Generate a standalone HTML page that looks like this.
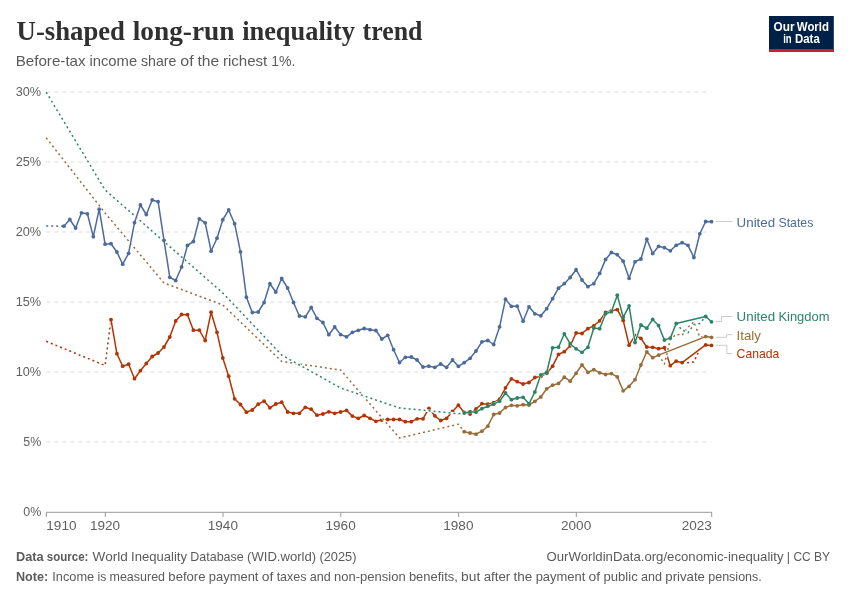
<!DOCTYPE html>
<html lang="en"><head><meta charset="utf-8"><title>U-shaped long-run inequality trend</title>
<style>html,body{margin:0;padding:0;background:#fff}body{width:850px;height:600px;overflow:hidden}</style></head>
<body>
<svg width="850" height="600" viewBox="0 0 850 600" style="display:block">
<rect width="850" height="600" fill="#ffffff"/>
<line x1="46.35" x2="711.5" y1="92" y2="92" stroke="#dddddd" stroke-width="1" stroke-dasharray="4 4"/>
<line x1="46.35" x2="711.5" y1="162" y2="162" stroke="#dddddd" stroke-width="1" stroke-dasharray="4 4"/>
<line x1="46.35" x2="711.5" y1="232" y2="232" stroke="#dddddd" stroke-width="1" stroke-dasharray="4 4"/>
<line x1="46.35" x2="711.5" y1="302" y2="302" stroke="#dddddd" stroke-width="1" stroke-dasharray="4 4"/>
<line x1="46.35" x2="711.5" y1="372" y2="372" stroke="#dddddd" stroke-width="1" stroke-dasharray="4 4"/>
<line x1="46.35" x2="711.5" y1="442" y2="442" stroke="#dddddd" stroke-width="1" stroke-dasharray="4 4"/>
<line x1="46" x2="712.0" y1="512.3" y2="512.3" stroke="#999999" stroke-width="1"/>
<line x1="46.4" x2="46.4" y1="512.3" y2="517" stroke="#999999" stroke-width="1"/>
<line x1="105.3" x2="105.3" y1="512.3" y2="517" stroke="#999999" stroke-width="1"/>
<line x1="223.0" x2="223.0" y1="512.3" y2="517" stroke="#999999" stroke-width="1"/>
<line x1="340.8" x2="340.8" y1="512.3" y2="517" stroke="#999999" stroke-width="1"/>
<line x1="458.6" x2="458.6" y1="512.3" y2="517" stroke="#999999" stroke-width="1"/>
<line x1="576.3" x2="576.3" y1="512.3" y2="517" stroke="#999999" stroke-width="1"/>
<line x1="711.7" x2="711.7" y1="512.3" y2="517" stroke="#999999" stroke-width="1"/>
<g fill="none" stroke-linejoin="round" stroke-linecap="butt">
<path d="M46.2,341.3 L105.1,365.5 L111.0,319.7" stroke="#ffffff" stroke-width="2.5"/>
<path d="M46.2,341.3 L105.1,365.5 L111.0,319.7" stroke="#B13507" stroke-width="1.5" stroke-dasharray="2 3"/>
<path d="M682.1,362.6 L688.0,362.7 L693.9,362.0 L699.8,349.0 L705.7,344.9" stroke="#ffffff" stroke-width="2.5"/>
<path d="M682.1,362.6 L688.0,362.7 L693.9,362.0 L699.8,349.0 L705.7,344.9" stroke="#B13507" stroke-width="1.5" stroke-dasharray="2 3"/>
<path d="M111.0,319.7 L116.9,353.7 L122.7,366.2 L128.6,364.2 L134.5,378.7 L140.4,370.7 L146.3,363.5 L152.2,356.5 L158.1,353.0 L164.0,347.0 L169.8,337.0 L175.7,321.0 L181.6,314.5 L187.5,314.7 L193.4,330.2 L199.3,330.2 L205.2,340.5 L211.1,312.2 L217.0,332.3 L222.8,358.0 L228.7,376.2 L234.6,398.8 L240.5,404.5 L246.4,412.2 L252.3,410.0 L258.2,404.2 L264.1,401.2 L269.9,407.8 L275.8,404.0 L281.7,402.2 L287.6,412.0 L293.5,413.3 L299.4,413.3 L305.3,407.3 L311.2,409.2 L317.0,415.2 L322.9,414.0 L328.8,411.8 L334.7,413.3 L340.6,412.0 L346.5,410.4 L352.4,416.1 L358.3,418.3 L364.2,415.5 L370.0,418.3 L375.9,421.3 L381.8,420.0 L387.7,419.5 L393.6,419.5 L399.5,419.5 L405.4,421.7 L411.3,421.7 L417.1,418.8 L423.0,418.8 L428.9,408.3 L434.8,415.8 L440.7,420.5 L446.6,418.3 L452.5,411.4 L458.4,405.2 L464.2,412.5 L470.1,414.0 L476.0,409.0 L481.9,403.7 L487.8,404.2 L493.7,402.7 L499.6,399.2 L505.5,387.8 L511.4,378.8 L517.2,381.7 L523.1,384.0 L529.0,382.5 L534.9,377.5 L540.8,376.5 L546.7,373.2 L552.6,366.2 L558.5,354.4 L564.3,351.7 L570.2,345.8 L576.1,333.0 L582.0,333.5 L587.9,328.7 L593.8,325.8 L599.7,320.8 L605.6,312.5 L611.4,310.8 L617.3,309.6 L623.2,320.4 L629.1,345.2 L635.0,335.7 L640.9,338.3 L646.8,347.0 L652.7,347.3 L658.6,348.7 L664.4,347.7 L670.3,365.7 L676.2,361.2 L682.1,362.6 L705.7,344.9 L711.5,345.4" stroke="#ffffff" stroke-width="2.5"/>
<path d="M111.0,319.7 L116.9,353.7 L122.7,366.2 L128.6,364.2 L134.5,378.7 L140.4,370.7 L146.3,363.5 L152.2,356.5 L158.1,353.0 L164.0,347.0 L169.8,337.0 L175.7,321.0 L181.6,314.5 L187.5,314.7 L193.4,330.2 L199.3,330.2 L205.2,340.5 L211.1,312.2 L217.0,332.3 L222.8,358.0 L228.7,376.2 L234.6,398.8 L240.5,404.5 L246.4,412.2 L252.3,410.0 L258.2,404.2 L264.1,401.2 L269.9,407.8 L275.8,404.0 L281.7,402.2 L287.6,412.0 L293.5,413.3 L299.4,413.3 L305.3,407.3 L311.2,409.2 L317.0,415.2 L322.9,414.0 L328.8,411.8 L334.7,413.3 L340.6,412.0 L346.5,410.4 L352.4,416.1 L358.3,418.3 L364.2,415.5 L370.0,418.3 L375.9,421.3 L381.8,420.0 L387.7,419.5 L393.6,419.5 L399.5,419.5 L405.4,421.7 L411.3,421.7 L417.1,418.8 L423.0,418.8 L428.9,408.3 L434.8,415.8 L440.7,420.5 L446.6,418.3 L452.5,411.4 L458.4,405.2 L464.2,412.5 L470.1,414.0 L476.0,409.0 L481.9,403.7 L487.8,404.2 L493.7,402.7 L499.6,399.2 L505.5,387.8 L511.4,378.8 L517.2,381.7 L523.1,384.0 L529.0,382.5 L534.9,377.5 L540.8,376.5 L546.7,373.2 L552.6,366.2 L558.5,354.4 L564.3,351.7 L570.2,345.8 L576.1,333.0 L582.0,333.5 L587.9,328.7 L593.8,325.8 L599.7,320.8 L605.6,312.5 L611.4,310.8 L617.3,309.6 L623.2,320.4 L629.1,345.2 L635.0,335.7 L640.9,338.3 L646.8,347.0 L652.7,347.3 L658.6,348.7 L664.4,347.7 L670.3,365.7 L676.2,361.2 L682.1,362.6 L705.7,344.9 L711.5,345.4" stroke="#B13507" stroke-width="1.5"/>
</g>
<g fill="#B13507">
<circle cx="111.0" cy="319.7" r="1.9"/>
<circle cx="116.9" cy="353.7" r="1.9"/>
<circle cx="122.7" cy="366.2" r="1.9"/>
<circle cx="128.6" cy="364.2" r="1.9"/>
<circle cx="134.5" cy="378.7" r="1.9"/>
<circle cx="140.4" cy="370.7" r="1.9"/>
<circle cx="146.3" cy="363.5" r="1.9"/>
<circle cx="152.2" cy="356.5" r="1.9"/>
<circle cx="158.1" cy="353.0" r="1.9"/>
<circle cx="164.0" cy="347.0" r="1.9"/>
<circle cx="169.8" cy="337.0" r="1.9"/>
<circle cx="175.7" cy="321.0" r="1.9"/>
<circle cx="181.6" cy="314.5" r="1.9"/>
<circle cx="187.5" cy="314.7" r="1.9"/>
<circle cx="193.4" cy="330.2" r="1.9"/>
<circle cx="199.3" cy="330.2" r="1.9"/>
<circle cx="205.2" cy="340.5" r="1.9"/>
<circle cx="211.1" cy="312.2" r="1.9"/>
<circle cx="217.0" cy="332.3" r="1.9"/>
<circle cx="222.8" cy="358.0" r="1.9"/>
<circle cx="228.7" cy="376.2" r="1.9"/>
<circle cx="234.6" cy="398.8" r="1.9"/>
<circle cx="240.5" cy="404.5" r="1.9"/>
<circle cx="246.4" cy="412.2" r="1.9"/>
<circle cx="252.3" cy="410.0" r="1.9"/>
<circle cx="258.2" cy="404.2" r="1.9"/>
<circle cx="264.1" cy="401.2" r="1.9"/>
<circle cx="269.9" cy="407.8" r="1.9"/>
<circle cx="275.8" cy="404.0" r="1.9"/>
<circle cx="281.7" cy="402.2" r="1.9"/>
<circle cx="287.6" cy="412.0" r="1.9"/>
<circle cx="293.5" cy="413.3" r="1.9"/>
<circle cx="299.4" cy="413.3" r="1.9"/>
<circle cx="305.3" cy="407.3" r="1.9"/>
<circle cx="311.2" cy="409.2" r="1.9"/>
<circle cx="317.0" cy="415.2" r="1.9"/>
<circle cx="322.9" cy="414.0" r="1.9"/>
<circle cx="328.8" cy="411.8" r="1.9"/>
<circle cx="334.7" cy="413.3" r="1.9"/>
<circle cx="340.6" cy="412.0" r="1.9"/>
<circle cx="346.5" cy="410.4" r="1.9"/>
<circle cx="352.4" cy="416.1" r="1.9"/>
<circle cx="358.3" cy="418.3" r="1.9"/>
<circle cx="364.2" cy="415.5" r="1.9"/>
<circle cx="370.0" cy="418.3" r="1.9"/>
<circle cx="375.9" cy="421.3" r="1.9"/>
<circle cx="381.8" cy="420.0" r="1.9"/>
<circle cx="387.7" cy="419.5" r="1.9"/>
<circle cx="393.6" cy="419.5" r="1.9"/>
<circle cx="399.5" cy="419.5" r="1.9"/>
<circle cx="405.4" cy="421.7" r="1.9"/>
<circle cx="411.3" cy="421.7" r="1.9"/>
<circle cx="417.1" cy="418.8" r="1.9"/>
<circle cx="423.0" cy="418.8" r="1.9"/>
<circle cx="428.9" cy="408.3" r="1.9"/>
<circle cx="434.8" cy="415.8" r="1.9"/>
<circle cx="440.7" cy="420.5" r="1.9"/>
<circle cx="446.6" cy="418.3" r="1.9"/>
<circle cx="452.5" cy="411.4" r="1.9"/>
<circle cx="458.4" cy="405.2" r="1.9"/>
<circle cx="464.2" cy="412.5" r="1.9"/>
<circle cx="470.1" cy="414.0" r="1.9"/>
<circle cx="476.0" cy="409.0" r="1.9"/>
<circle cx="481.9" cy="403.7" r="1.9"/>
<circle cx="487.8" cy="404.2" r="1.9"/>
<circle cx="493.7" cy="402.7" r="1.9"/>
<circle cx="499.6" cy="399.2" r="1.9"/>
<circle cx="505.5" cy="387.8" r="1.9"/>
<circle cx="511.4" cy="378.8" r="1.9"/>
<circle cx="517.2" cy="381.7" r="1.9"/>
<circle cx="523.1" cy="384.0" r="1.9"/>
<circle cx="529.0" cy="382.5" r="1.9"/>
<circle cx="534.9" cy="377.5" r="1.9"/>
<circle cx="540.8" cy="376.5" r="1.9"/>
<circle cx="546.7" cy="373.2" r="1.9"/>
<circle cx="552.6" cy="366.2" r="1.9"/>
<circle cx="558.5" cy="354.4" r="1.9"/>
<circle cx="564.3" cy="351.7" r="1.9"/>
<circle cx="570.2" cy="345.8" r="1.9"/>
<circle cx="576.1" cy="333.0" r="1.9"/>
<circle cx="582.0" cy="333.5" r="1.9"/>
<circle cx="587.9" cy="328.7" r="1.9"/>
<circle cx="593.8" cy="325.8" r="1.9"/>
<circle cx="599.7" cy="320.8" r="1.9"/>
<circle cx="605.6" cy="312.5" r="1.9"/>
<circle cx="611.4" cy="310.8" r="1.9"/>
<circle cx="617.3" cy="309.6" r="1.9"/>
<circle cx="623.2" cy="320.4" r="1.9"/>
<circle cx="629.1" cy="345.2" r="1.9"/>
<circle cx="635.0" cy="335.7" r="1.9"/>
<circle cx="640.9" cy="338.3" r="1.9"/>
<circle cx="646.8" cy="347.0" r="1.9"/>
<circle cx="652.7" cy="347.3" r="1.9"/>
<circle cx="658.6" cy="348.7" r="1.9"/>
<circle cx="664.4" cy="347.7" r="1.9"/>
<circle cx="670.3" cy="365.7" r="1.9"/>
<circle cx="676.2" cy="361.2" r="1.9"/>
<circle cx="682.1" cy="362.6" r="1.9"/>
<circle cx="705.7" cy="344.9" r="1.9"/>
<circle cx="711.5" cy="345.4" r="1.9"/>
</g>
<g fill="none" stroke-linejoin="round" stroke-linecap="butt">
<path d="M46.2,137.8 L105.1,213.0 L164.0,283.0 L222.8,305.0 L281.7,361.5 L340.6,370.0 L399.5,438.0 L458.4,424.2 L464.2,431.7" stroke="#ffffff" stroke-width="2.5"/>
<path d="M46.2,137.8 L105.1,213.0 L164.0,283.0 L222.8,305.0 L281.7,361.5 L340.6,370.0 L399.5,438.0 L458.4,424.2 L464.2,431.7" stroke="#996D39" stroke-width="1.5" stroke-dasharray="2 3"/>
<path d="M658.6,355.1 L664.4,364.0 L670.3,339.5 L676.2,334.2 L682.1,335.3 L688.0,327.2 L693.9,322.0 L699.8,337.1 L705.7,336.6" stroke="#ffffff" stroke-width="2.5"/>
<path d="M658.6,355.1 L664.4,364.0 L670.3,339.5 L676.2,334.2 L682.1,335.3 L688.0,327.2 L693.9,322.0 L699.8,337.1 L705.7,336.6" stroke="#996D39" stroke-width="1.5" stroke-dasharray="2 3"/>
<path d="M464.2,431.7 L470.1,433.0 L476.0,434.2 L481.9,431.2 L487.8,426.2 L493.7,414.5 L499.6,413.0 L505.5,407.5 L511.4,405.3 L517.2,405.8 L523.1,404.7 L529.0,405.0 L534.9,401.3 L540.8,397.0 L546.7,388.8 L552.6,385.2 L558.5,383.4 L564.3,377.2 L570.2,381.2 L576.1,373.3 L582.0,364.8 L587.9,372.3 L593.8,369.7 L599.7,372.8 L605.6,374.5 L611.4,373.6 L617.3,376.9 L623.2,390.8 L629.1,386.3 L635.0,379.7 L640.9,365.0 L646.8,351.8 L652.7,357.7 L658.6,355.1 L705.7,336.6 L711.5,337.3" stroke="#ffffff" stroke-width="2.5"/>
<path d="M464.2,431.7 L470.1,433.0 L476.0,434.2 L481.9,431.2 L487.8,426.2 L493.7,414.5 L499.6,413.0 L505.5,407.5 L511.4,405.3 L517.2,405.8 L523.1,404.7 L529.0,405.0 L534.9,401.3 L540.8,397.0 L546.7,388.8 L552.6,385.2 L558.5,383.4 L564.3,377.2 L570.2,381.2 L576.1,373.3 L582.0,364.8 L587.9,372.3 L593.8,369.7 L599.7,372.8 L605.6,374.5 L611.4,373.6 L617.3,376.9 L623.2,390.8 L629.1,386.3 L635.0,379.7 L640.9,365.0 L646.8,351.8 L652.7,357.7 L658.6,355.1 L705.7,336.6 L711.5,337.3" stroke="#996D39" stroke-width="1.5"/>
</g>
<g fill="#996D39">
<circle cx="464.2" cy="431.7" r="1.9"/>
<circle cx="470.1" cy="433.0" r="1.9"/>
<circle cx="476.0" cy="434.2" r="1.9"/>
<circle cx="481.9" cy="431.2" r="1.9"/>
<circle cx="487.8" cy="426.2" r="1.9"/>
<circle cx="493.7" cy="414.5" r="1.9"/>
<circle cx="499.6" cy="413.0" r="1.9"/>
<circle cx="505.5" cy="407.5" r="1.9"/>
<circle cx="511.4" cy="405.3" r="1.9"/>
<circle cx="517.2" cy="405.8" r="1.9"/>
<circle cx="523.1" cy="404.7" r="1.9"/>
<circle cx="529.0" cy="405.0" r="1.9"/>
<circle cx="534.9" cy="401.3" r="1.9"/>
<circle cx="540.8" cy="397.0" r="1.9"/>
<circle cx="546.7" cy="388.8" r="1.9"/>
<circle cx="552.6" cy="385.2" r="1.9"/>
<circle cx="558.5" cy="383.4" r="1.9"/>
<circle cx="564.3" cy="377.2" r="1.9"/>
<circle cx="570.2" cy="381.2" r="1.9"/>
<circle cx="576.1" cy="373.3" r="1.9"/>
<circle cx="582.0" cy="364.8" r="1.9"/>
<circle cx="587.9" cy="372.3" r="1.9"/>
<circle cx="593.8" cy="369.7" r="1.9"/>
<circle cx="599.7" cy="372.8" r="1.9"/>
<circle cx="605.6" cy="374.5" r="1.9"/>
<circle cx="611.4" cy="373.6" r="1.9"/>
<circle cx="617.3" cy="376.9" r="1.9"/>
<circle cx="623.2" cy="390.8" r="1.9"/>
<circle cx="629.1" cy="386.3" r="1.9"/>
<circle cx="635.0" cy="379.7" r="1.9"/>
<circle cx="640.9" cy="365.0" r="1.9"/>
<circle cx="646.8" cy="351.8" r="1.9"/>
<circle cx="652.7" cy="357.7" r="1.9"/>
<circle cx="658.6" cy="355.1" r="1.9"/>
<circle cx="705.7" cy="336.6" r="1.9"/>
<circle cx="711.5" cy="337.3" r="1.9"/>
</g>
<g fill="none" stroke-linejoin="round" stroke-linecap="butt">
<path d="M46.2,92.2 L105.1,190.0 L164.0,241.5 L222.8,293.0 L281.7,355.0 L340.6,388.0 L399.5,408.0 L458.4,413.7 L464.2,413.0" stroke="#ffffff" stroke-width="2.5"/>
<path d="M46.2,92.2 L105.1,190.0 L164.0,241.5 L222.8,293.0 L281.7,355.0 L340.6,388.0 L399.5,408.0 L458.4,413.7 L464.2,413.0" stroke="#2C8465" stroke-width="1.5" stroke-dasharray="2 3"/>
<path d="M676.2,323.5 L682.1,330.0 L688.0,332.8 L693.9,324.5 L699.8,323.4 L705.7,316.5" stroke="#ffffff" stroke-width="2.5"/>
<path d="M676.2,323.5 L682.1,330.0 L688.0,332.8 L693.9,324.5 L699.8,323.4 L705.7,316.5" stroke="#2C8465" stroke-width="1.5" stroke-dasharray="2 3"/>
<path d="M464.2,413.0 L470.1,411.7 L476.0,412.2 L481.9,408.7 L487.8,406.2 L493.7,404.2 L499.6,401.2 L505.5,393.0 L511.4,399.7 L517.2,398.0 L523.1,397.3 L529.0,403.8 L534.9,392.0 L540.8,374.8 L546.7,372.5 L552.6,347.8 L558.5,347.2 L564.3,333.8 L570.2,343.7 L576.1,348.8 L582.0,352.3 L587.9,347.3 L593.8,328.0 L599.7,328.7 L605.6,313.7 L611.4,311.7 L617.3,295.2 L623.2,317.3 L629.1,305.8 L635.0,342.5 L640.9,325.0 L646.8,328.2 L652.7,319.4 L658.6,325.6 L664.4,340.0 L670.3,338.1 L676.2,323.5 L705.7,316.5 L711.5,321.8" stroke="#ffffff" stroke-width="2.5"/>
<path d="M464.2,413.0 L470.1,411.7 L476.0,412.2 L481.9,408.7 L487.8,406.2 L493.7,404.2 L499.6,401.2 L505.5,393.0 L511.4,399.7 L517.2,398.0 L523.1,397.3 L529.0,403.8 L534.9,392.0 L540.8,374.8 L546.7,372.5 L552.6,347.8 L558.5,347.2 L564.3,333.8 L570.2,343.7 L576.1,348.8 L582.0,352.3 L587.9,347.3 L593.8,328.0 L599.7,328.7 L605.6,313.7 L611.4,311.7 L617.3,295.2 L623.2,317.3 L629.1,305.8 L635.0,342.5 L640.9,325.0 L646.8,328.2 L652.7,319.4 L658.6,325.6 L664.4,340.0 L670.3,338.1 L676.2,323.5 L705.7,316.5 L711.5,321.8" stroke="#2C8465" stroke-width="1.5"/>
</g>
<g fill="#2C8465">
<circle cx="464.2" cy="413.0" r="1.9"/>
<circle cx="470.1" cy="411.7" r="1.9"/>
<circle cx="476.0" cy="412.2" r="1.9"/>
<circle cx="481.9" cy="408.7" r="1.9"/>
<circle cx="487.8" cy="406.2" r="1.9"/>
<circle cx="493.7" cy="404.2" r="1.9"/>
<circle cx="499.6" cy="401.2" r="1.9"/>
<circle cx="505.5" cy="393.0" r="1.9"/>
<circle cx="511.4" cy="399.7" r="1.9"/>
<circle cx="517.2" cy="398.0" r="1.9"/>
<circle cx="523.1" cy="397.3" r="1.9"/>
<circle cx="529.0" cy="403.8" r="1.9"/>
<circle cx="534.9" cy="392.0" r="1.9"/>
<circle cx="540.8" cy="374.8" r="1.9"/>
<circle cx="546.7" cy="372.5" r="1.9"/>
<circle cx="552.6" cy="347.8" r="1.9"/>
<circle cx="558.5" cy="347.2" r="1.9"/>
<circle cx="564.3" cy="333.8" r="1.9"/>
<circle cx="570.2" cy="343.7" r="1.9"/>
<circle cx="576.1" cy="348.8" r="1.9"/>
<circle cx="582.0" cy="352.3" r="1.9"/>
<circle cx="587.9" cy="347.3" r="1.9"/>
<circle cx="593.8" cy="328.0" r="1.9"/>
<circle cx="599.7" cy="328.7" r="1.9"/>
<circle cx="605.6" cy="313.7" r="1.9"/>
<circle cx="611.4" cy="311.7" r="1.9"/>
<circle cx="617.3" cy="295.2" r="1.9"/>
<circle cx="623.2" cy="317.3" r="1.9"/>
<circle cx="629.1" cy="305.8" r="1.9"/>
<circle cx="635.0" cy="342.5" r="1.9"/>
<circle cx="640.9" cy="325.0" r="1.9"/>
<circle cx="646.8" cy="328.2" r="1.9"/>
<circle cx="652.7" cy="319.4" r="1.9"/>
<circle cx="658.6" cy="325.6" r="1.9"/>
<circle cx="664.4" cy="340.0" r="1.9"/>
<circle cx="670.3" cy="338.1" r="1.9"/>
<circle cx="676.2" cy="323.5" r="1.9"/>
<circle cx="705.7" cy="316.5" r="1.9"/>
<circle cx="711.5" cy="321.8" r="1.9"/>
</g>
<g fill="none" stroke-linejoin="round" stroke-linecap="butt">
<path d="M46.2,226.0 L63.9,226.2" stroke="#ffffff" stroke-width="2.5"/>
<path d="M46.2,226.0 L63.9,226.2" stroke="#4C6A9C" stroke-width="1.5" stroke-dasharray="2 3"/>
<path d="M63.9,226.2 L69.8,219.5 L75.6,228.0 L81.5,212.8 L87.4,213.8 L93.3,236.7 L99.2,209.2 L105.1,244.2 L111.0,243.7 L116.9,252.0 L122.7,264.2 L128.6,253.3 L134.5,222.7 L140.4,205.0 L146.3,214.5 L152.2,200.0 L158.1,201.7 L164.0,240.3 L169.8,277.3 L175.7,280.5 L181.6,267.0 L187.5,245.3 L193.4,241.5 L199.3,218.8 L205.2,222.8 L211.1,251.2 L217.0,238.2 L222.8,219.7 L228.7,210.0 L234.6,223.7 L240.5,251.8 L246.4,297.2 L252.3,312.5 L258.2,312.0 L264.1,302.5 L269.9,283.7 L275.8,292.0 L281.7,278.5 L287.6,288.0 L293.5,302.5 L299.4,316.0 L305.3,316.8 L311.2,307.5 L317.0,318.3 L322.9,322.5 L328.8,334.7 L334.7,327.0 L340.6,334.6 L346.5,336.8 L352.4,332.3 L358.3,330.3 L364.2,328.5 L370.0,329.7 L375.9,330.5 L381.8,339.0 L387.7,335.3 L393.6,349.7 L399.5,362.5 L405.4,357.3 L411.3,357.0 L417.1,360.0 L423.0,367.0 L428.9,366.2 L434.8,367.3 L440.7,364.0 L446.6,367.3 L452.5,360.0 L458.4,366.3 L464.2,362.7 L470.1,358.3 L476.0,351.0 L481.9,341.8 L487.8,340.5 L493.7,344.5 L499.6,326.8 L505.5,299.2 L511.4,306.3 L517.2,306.2 L523.1,321.2 L529.0,306.8 L534.9,313.8 L540.8,315.8 L546.7,308.7 L552.6,298.7 L558.5,288.2 L564.3,283.7 L570.2,277.5 L576.1,269.7 L582.0,280.0 L587.9,286.7 L593.8,283.7 L599.7,273.4 L605.6,259.4 L611.4,252.5 L617.3,254.7 L623.2,261.2 L629.1,278.3 L635.0,261.8 L640.9,259.0 L646.8,239.2 L652.7,253.5 L658.6,246.3 L664.4,247.7 L670.3,250.8 L676.2,245.3 L682.1,242.7 L688.0,245.3 L693.9,257.5 L699.8,233.8 L705.7,221.5 L711.5,221.7" stroke="#ffffff" stroke-width="2.5"/>
<path d="M63.9,226.2 L69.8,219.5 L75.6,228.0 L81.5,212.8 L87.4,213.8 L93.3,236.7 L99.2,209.2 L105.1,244.2 L111.0,243.7 L116.9,252.0 L122.7,264.2 L128.6,253.3 L134.5,222.7 L140.4,205.0 L146.3,214.5 L152.2,200.0 L158.1,201.7 L164.0,240.3 L169.8,277.3 L175.7,280.5 L181.6,267.0 L187.5,245.3 L193.4,241.5 L199.3,218.8 L205.2,222.8 L211.1,251.2 L217.0,238.2 L222.8,219.7 L228.7,210.0 L234.6,223.7 L240.5,251.8 L246.4,297.2 L252.3,312.5 L258.2,312.0 L264.1,302.5 L269.9,283.7 L275.8,292.0 L281.7,278.5 L287.6,288.0 L293.5,302.5 L299.4,316.0 L305.3,316.8 L311.2,307.5 L317.0,318.3 L322.9,322.5 L328.8,334.7 L334.7,327.0 L340.6,334.6 L346.5,336.8 L352.4,332.3 L358.3,330.3 L364.2,328.5 L370.0,329.7 L375.9,330.5 L381.8,339.0 L387.7,335.3 L393.6,349.7 L399.5,362.5 L405.4,357.3 L411.3,357.0 L417.1,360.0 L423.0,367.0 L428.9,366.2 L434.8,367.3 L440.7,364.0 L446.6,367.3 L452.5,360.0 L458.4,366.3 L464.2,362.7 L470.1,358.3 L476.0,351.0 L481.9,341.8 L487.8,340.5 L493.7,344.5 L499.6,326.8 L505.5,299.2 L511.4,306.3 L517.2,306.2 L523.1,321.2 L529.0,306.8 L534.9,313.8 L540.8,315.8 L546.7,308.7 L552.6,298.7 L558.5,288.2 L564.3,283.7 L570.2,277.5 L576.1,269.7 L582.0,280.0 L587.9,286.7 L593.8,283.7 L599.7,273.4 L605.6,259.4 L611.4,252.5 L617.3,254.7 L623.2,261.2 L629.1,278.3 L635.0,261.8 L640.9,259.0 L646.8,239.2 L652.7,253.5 L658.6,246.3 L664.4,247.7 L670.3,250.8 L676.2,245.3 L682.1,242.7 L688.0,245.3 L693.9,257.5 L699.8,233.8 L705.7,221.5 L711.5,221.7" stroke="#4C6A9C" stroke-width="1.5"/>
</g>
<g fill="#4C6A9C">
<circle cx="63.9" cy="226.2" r="1.9"/>
<circle cx="69.8" cy="219.5" r="1.9"/>
<circle cx="75.6" cy="228.0" r="1.9"/>
<circle cx="81.5" cy="212.8" r="1.9"/>
<circle cx="87.4" cy="213.8" r="1.9"/>
<circle cx="93.3" cy="236.7" r="1.9"/>
<circle cx="99.2" cy="209.2" r="1.9"/>
<circle cx="105.1" cy="244.2" r="1.9"/>
<circle cx="111.0" cy="243.7" r="1.9"/>
<circle cx="116.9" cy="252.0" r="1.9"/>
<circle cx="122.7" cy="264.2" r="1.9"/>
<circle cx="128.6" cy="253.3" r="1.9"/>
<circle cx="134.5" cy="222.7" r="1.9"/>
<circle cx="140.4" cy="205.0" r="1.9"/>
<circle cx="146.3" cy="214.5" r="1.9"/>
<circle cx="152.2" cy="200.0" r="1.9"/>
<circle cx="158.1" cy="201.7" r="1.9"/>
<circle cx="164.0" cy="240.3" r="1.9"/>
<circle cx="169.8" cy="277.3" r="1.9"/>
<circle cx="175.7" cy="280.5" r="1.9"/>
<circle cx="181.6" cy="267.0" r="1.9"/>
<circle cx="187.5" cy="245.3" r="1.9"/>
<circle cx="193.4" cy="241.5" r="1.9"/>
<circle cx="199.3" cy="218.8" r="1.9"/>
<circle cx="205.2" cy="222.8" r="1.9"/>
<circle cx="211.1" cy="251.2" r="1.9"/>
<circle cx="217.0" cy="238.2" r="1.9"/>
<circle cx="222.8" cy="219.7" r="1.9"/>
<circle cx="228.7" cy="210.0" r="1.9"/>
<circle cx="234.6" cy="223.7" r="1.9"/>
<circle cx="240.5" cy="251.8" r="1.9"/>
<circle cx="246.4" cy="297.2" r="1.9"/>
<circle cx="252.3" cy="312.5" r="1.9"/>
<circle cx="258.2" cy="312.0" r="1.9"/>
<circle cx="264.1" cy="302.5" r="1.9"/>
<circle cx="269.9" cy="283.7" r="1.9"/>
<circle cx="275.8" cy="292.0" r="1.9"/>
<circle cx="281.7" cy="278.5" r="1.9"/>
<circle cx="287.6" cy="288.0" r="1.9"/>
<circle cx="293.5" cy="302.5" r="1.9"/>
<circle cx="299.4" cy="316.0" r="1.9"/>
<circle cx="305.3" cy="316.8" r="1.9"/>
<circle cx="311.2" cy="307.5" r="1.9"/>
<circle cx="317.0" cy="318.3" r="1.9"/>
<circle cx="322.9" cy="322.5" r="1.9"/>
<circle cx="328.8" cy="334.7" r="1.9"/>
<circle cx="334.7" cy="327.0" r="1.9"/>
<circle cx="340.6" cy="334.6" r="1.9"/>
<circle cx="346.5" cy="336.8" r="1.9"/>
<circle cx="352.4" cy="332.3" r="1.9"/>
<circle cx="358.3" cy="330.3" r="1.9"/>
<circle cx="364.2" cy="328.5" r="1.9"/>
<circle cx="370.0" cy="329.7" r="1.9"/>
<circle cx="375.9" cy="330.5" r="1.9"/>
<circle cx="381.8" cy="339.0" r="1.9"/>
<circle cx="387.7" cy="335.3" r="1.9"/>
<circle cx="393.6" cy="349.7" r="1.9"/>
<circle cx="399.5" cy="362.5" r="1.9"/>
<circle cx="405.4" cy="357.3" r="1.9"/>
<circle cx="411.3" cy="357.0" r="1.9"/>
<circle cx="417.1" cy="360.0" r="1.9"/>
<circle cx="423.0" cy="367.0" r="1.9"/>
<circle cx="428.9" cy="366.2" r="1.9"/>
<circle cx="434.8" cy="367.3" r="1.9"/>
<circle cx="440.7" cy="364.0" r="1.9"/>
<circle cx="446.6" cy="367.3" r="1.9"/>
<circle cx="452.5" cy="360.0" r="1.9"/>
<circle cx="458.4" cy="366.3" r="1.9"/>
<circle cx="464.2" cy="362.7" r="1.9"/>
<circle cx="470.1" cy="358.3" r="1.9"/>
<circle cx="476.0" cy="351.0" r="1.9"/>
<circle cx="481.9" cy="341.8" r="1.9"/>
<circle cx="487.8" cy="340.5" r="1.9"/>
<circle cx="493.7" cy="344.5" r="1.9"/>
<circle cx="499.6" cy="326.8" r="1.9"/>
<circle cx="505.5" cy="299.2" r="1.9"/>
<circle cx="511.4" cy="306.3" r="1.9"/>
<circle cx="517.2" cy="306.2" r="1.9"/>
<circle cx="523.1" cy="321.2" r="1.9"/>
<circle cx="529.0" cy="306.8" r="1.9"/>
<circle cx="534.9" cy="313.8" r="1.9"/>
<circle cx="540.8" cy="315.8" r="1.9"/>
<circle cx="546.7" cy="308.7" r="1.9"/>
<circle cx="552.6" cy="298.7" r="1.9"/>
<circle cx="558.5" cy="288.2" r="1.9"/>
<circle cx="564.3" cy="283.7" r="1.9"/>
<circle cx="570.2" cy="277.5" r="1.9"/>
<circle cx="576.1" cy="269.7" r="1.9"/>
<circle cx="582.0" cy="280.0" r="1.9"/>
<circle cx="587.9" cy="286.7" r="1.9"/>
<circle cx="593.8" cy="283.7" r="1.9"/>
<circle cx="599.7" cy="273.4" r="1.9"/>
<circle cx="605.6" cy="259.4" r="1.9"/>
<circle cx="611.4" cy="252.5" r="1.9"/>
<circle cx="617.3" cy="254.7" r="1.9"/>
<circle cx="623.2" cy="261.2" r="1.9"/>
<circle cx="629.1" cy="278.3" r="1.9"/>
<circle cx="635.0" cy="261.8" r="1.9"/>
<circle cx="640.9" cy="259.0" r="1.9"/>
<circle cx="646.8" cy="239.2" r="1.9"/>
<circle cx="652.7" cy="253.5" r="1.9"/>
<circle cx="658.6" cy="246.3" r="1.9"/>
<circle cx="664.4" cy="247.7" r="1.9"/>
<circle cx="670.3" cy="250.8" r="1.9"/>
<circle cx="676.2" cy="245.3" r="1.9"/>
<circle cx="682.1" cy="242.7" r="1.9"/>
<circle cx="688.0" cy="245.3" r="1.9"/>
<circle cx="693.9" cy="257.5" r="1.9"/>
<circle cx="699.8" cy="233.8" r="1.9"/>
<circle cx="705.7" cy="221.5" r="1.9"/>
<circle cx="711.5" cy="221.7" r="1.9"/>
</g>
<g fill="none" stroke="#cccccc" stroke-width="1">
<path d="M715.8,221.5 H732.5"/>
<path d="M715.8,321.5 H721.5 V316.5 H732.5"/>
<path d="M715.8,337.3 H726.5 V334.7 H732.5"/>
<path d="M715.8,345.3 H726.8 V353.5 H732.5"/>
</g>
<rect x="769" y="16" width="64.8" height="35.9" fill="#002147"/>
<rect x="769" y="49.1" width="64.8" height="2.8" fill="#ce261e"/>
<text y="39.5" font-family='"Liberation Serif", serif' font-size="26.5" font-weight="700" fill="#303030"><tspan x="16.60" textLength="108.40" lengthAdjust="spacingAndGlyphs">U-shaped</tspan> <tspan x="132.70" textLength="101.80" lengthAdjust="spacingAndGlyphs">long-run</tspan> <tspan x="242.20" textLength="112.80" lengthAdjust="spacingAndGlyphs">inequality</tspan> <tspan x="362.60" textLength="59.80" lengthAdjust="spacingAndGlyphs">trend</tspan></text>
<text y="66.2" font-family='"Liberation Sans", sans-serif' font-size="15" font-weight="400" fill="#5b5b5b"><tspan x="15.70" textLength="69.91" lengthAdjust="spacingAndGlyphs">Before-tax</tspan> <tspan x="89.42" textLength="47.78" lengthAdjust="spacingAndGlyphs">income</tspan> <tspan x="141.03" textLength="35.41" lengthAdjust="spacingAndGlyphs">share</tspan> <tspan x="180.26" textLength="13.33" lengthAdjust="spacingAndGlyphs">of</tspan> <tspan x="197.42" textLength="21.69" lengthAdjust="spacingAndGlyphs">the</tspan> <tspan x="222.92" textLength="44.41" lengthAdjust="spacingAndGlyphs">richest</tspan> <tspan x="271.15" textLength="24.27" lengthAdjust="spacingAndGlyphs">1%.</tspan></text>
<text y="96.3" font-family='"Liberation Sans", sans-serif' font-size="13" font-weight="400" fill="#606060"><tspan x="15.70" textLength="25.50" lengthAdjust="spacingAndGlyphs">30%</tspan></text>
<text y="166.3" font-family='"Liberation Sans", sans-serif' font-size="13" font-weight="400" fill="#606060"><tspan x="15.70" textLength="25.50" lengthAdjust="spacingAndGlyphs">25%</tspan></text>
<text y="236.3" font-family='"Liberation Sans", sans-serif' font-size="13" font-weight="400" fill="#606060"><tspan x="15.70" textLength="25.50" lengthAdjust="spacingAndGlyphs">20%</tspan></text>
<text y="306.3" font-family='"Liberation Sans", sans-serif' font-size="13" font-weight="400" fill="#606060"><tspan x="15.70" textLength="25.50" lengthAdjust="spacingAndGlyphs">15%</tspan></text>
<text y="376.3" font-family='"Liberation Sans", sans-serif' font-size="13" font-weight="400" fill="#606060"><tspan x="15.70" textLength="25.50" lengthAdjust="spacingAndGlyphs">10%</tspan></text>
<text y="446.3" font-family='"Liberation Sans", sans-serif' font-size="13" font-weight="400" fill="#606060"><tspan x="23.23" textLength="17.97" lengthAdjust="spacingAndGlyphs">5%</tspan></text>
<text y="516.3" font-family='"Liberation Sans", sans-serif' font-size="13" font-weight="400" fill="#606060"><tspan x="23.23" textLength="17.97" lengthAdjust="spacingAndGlyphs">0%</tspan></text>
<text y="530.2" font-family='"Liberation Sans", sans-serif' font-size="13" font-weight="400" fill="#606060"><tspan x="46.30" textLength="30.17" lengthAdjust="spacingAndGlyphs">1910</tspan></text>
<text y="530.2" font-family='"Liberation Sans", sans-serif' font-size="13" font-weight="400" fill="#606060"><tspan x="89.99" textLength="30.17" lengthAdjust="spacingAndGlyphs">1920</tspan></text>
<text y="530.2" font-family='"Liberation Sans", sans-serif' font-size="13" font-weight="400" fill="#606060"><tspan x="207.75" textLength="30.17" lengthAdjust="spacingAndGlyphs">1940</tspan></text>
<text y="530.2" font-family='"Liberation Sans", sans-serif' font-size="13" font-weight="400" fill="#606060"><tspan x="325.51" textLength="30.17" lengthAdjust="spacingAndGlyphs">1960</tspan></text>
<text y="530.2" font-family='"Liberation Sans", sans-serif' font-size="13" font-weight="400" fill="#606060"><tspan x="443.27" textLength="30.17" lengthAdjust="spacingAndGlyphs">1980</tspan></text>
<text y="530.2" font-family='"Liberation Sans", sans-serif' font-size="13" font-weight="400" fill="#606060"><tspan x="561.03" textLength="30.17" lengthAdjust="spacingAndGlyphs">2000</tspan></text>
<text y="530.2" font-family='"Liberation Sans", sans-serif' font-size="13" font-weight="400" fill="#606060"><tspan x="681.67" textLength="30.17" lengthAdjust="spacingAndGlyphs">2023</tspan></text>
<text y="226.6" font-family='"Liberation Sans", sans-serif' font-size="13" font-weight="400" fill="#4C6A9C"><tspan x="736.60" textLength="38.52" lengthAdjust="spacingAndGlyphs">United</tspan> <tspan x="778.43" textLength="34.94" lengthAdjust="spacingAndGlyphs">States</tspan></text>
<text y="321.4" font-family='"Liberation Sans", sans-serif' font-size="13" font-weight="400" fill="#2C8465"><tspan x="736.60" textLength="38.52" lengthAdjust="spacingAndGlyphs">United</tspan> <tspan x="778.43" textLength="51.02" lengthAdjust="spacingAndGlyphs">Kingdom</tspan></text>
<text y="340.1" font-family='"Liberation Sans", sans-serif' font-size="13" font-weight="400" fill="#996D39"><tspan x="736.60" textLength="24.34" lengthAdjust="spacingAndGlyphs">Italy</tspan></text>
<text y="358.3" font-family='"Liberation Sans", sans-serif' font-size="13" font-weight="400" fill="#B13507"><tspan x="736.60" textLength="42.61" lengthAdjust="spacingAndGlyphs">Canada</tspan></text>
<text y="560.6" font-family='"Liberation Sans", sans-serif' font-size="13" font-weight="700" fill="#5b5b5b"><tspan x="16.00" textLength="27.67" lengthAdjust="spacingAndGlyphs">Data</tspan> <tspan x="46.81" textLength="41.62" lengthAdjust="spacingAndGlyphs">source:</tspan></text>
<text y="560.6" font-family='"Liberation Sans", sans-serif' font-size="13" font-weight="400" fill="#5b5b5b"><tspan x="92.60" textLength="35.19" lengthAdjust="spacingAndGlyphs">World</tspan> <tspan x="131.10" textLength="55.89" lengthAdjust="spacingAndGlyphs">Inequality</tspan> <tspan x="190.30" textLength="53.47" lengthAdjust="spacingAndGlyphs">Database</tspan> <tspan x="247.08" textLength="69.02" lengthAdjust="spacingAndGlyphs">(WID.world)</tspan> <tspan x="319.41" textLength="37.11" lengthAdjust="spacingAndGlyphs">(2025)</tspan></text>
<text y="560.6" font-family='"Liberation Sans", sans-serif' font-size="13" font-weight="400" fill="#5b5b5b"><tspan x="546.54" textLength="237.02" lengthAdjust="spacingAndGlyphs">OurWorldinData.org/economic-inequality</tspan> <tspan x="786.87" textLength="3.28" lengthAdjust="spacingAndGlyphs">|</tspan> <tspan x="793.47" textLength="17.19" lengthAdjust="spacingAndGlyphs">CC</tspan> <tspan x="813.97" textLength="16.23" lengthAdjust="spacingAndGlyphs">BY</tspan></text>
<text y="581.3" font-family='"Liberation Sans", sans-serif' font-size="13" font-weight="700" fill="#5b5b5b"><tspan x="16.00" textLength="32.23" lengthAdjust="spacingAndGlyphs">Note:</tspan></text>
<text y="581.3" font-family='"Liberation Sans", sans-serif' font-size="13" font-weight="400" fill="#5b5b5b"><tspan x="52.30" textLength="41.83" lengthAdjust="spacingAndGlyphs">Income</tspan> <tspan x="97.44" textLength="8.77" lengthAdjust="spacingAndGlyphs">is</tspan> <tspan x="109.52" textLength="55.52" lengthAdjust="spacingAndGlyphs">measured</tspan> <tspan x="168.35" textLength="37.14" lengthAdjust="spacingAndGlyphs">before</tspan> <tspan x="208.80" textLength="49.69" lengthAdjust="spacingAndGlyphs">payment</tspan> <tspan x="261.80" textLength="11.55" lengthAdjust="spacingAndGlyphs">of</tspan> <tspan x="276.66" textLength="29.81" lengthAdjust="spacingAndGlyphs">taxes</tspan> <tspan x="309.78" textLength="21.02" lengthAdjust="spacingAndGlyphs">and</tspan> <tspan x="334.11" textLength="71.50" lengthAdjust="spacingAndGlyphs">non-pension</tspan> <tspan x="408.93" textLength="48.91" lengthAdjust="spacingAndGlyphs">benefits,</tspan> <tspan x="461.14" textLength="19.20" lengthAdjust="spacingAndGlyphs">but</tspan> <tspan x="483.66" textLength="26.56" lengthAdjust="spacingAndGlyphs">after</tspan> <tspan x="513.53" textLength="18.80" lengthAdjust="spacingAndGlyphs">the</tspan> <tspan x="535.64" textLength="49.69" lengthAdjust="spacingAndGlyphs">payment</tspan> <tspan x="588.64" textLength="11.56" lengthAdjust="spacingAndGlyphs">of</tspan> <tspan x="603.52" textLength="34.22" lengthAdjust="spacingAndGlyphs">public</tspan> <tspan x="641.05" textLength="21.02" lengthAdjust="spacingAndGlyphs">and</tspan> <tspan x="665.38" textLength="39.58" lengthAdjust="spacingAndGlyphs">private</tspan> <tspan x="708.27" textLength="53.50" lengthAdjust="spacingAndGlyphs">pensions.</tspan></text>
<text y="30.8" font-family='"Liberation Sans", sans-serif' font-size="12.1" font-weight="700" fill="#ffffff"><tspan x="773.50" textLength="21.00" lengthAdjust="spacingAndGlyphs">Our</tspan> <tspan x="796.80" textLength="32.20" lengthAdjust="spacingAndGlyphs">World</tspan></text>
<text y="42.7" font-family='"Liberation Sans", sans-serif' font-size="12.1" font-weight="700" fill="#ffffff"><tspan x="783.20" textLength="8.50" lengthAdjust="spacingAndGlyphs">in</tspan> <tspan x="795.00" textLength="24.80" lengthAdjust="spacingAndGlyphs">Data</tspan></text>
</svg>
</body></html>
